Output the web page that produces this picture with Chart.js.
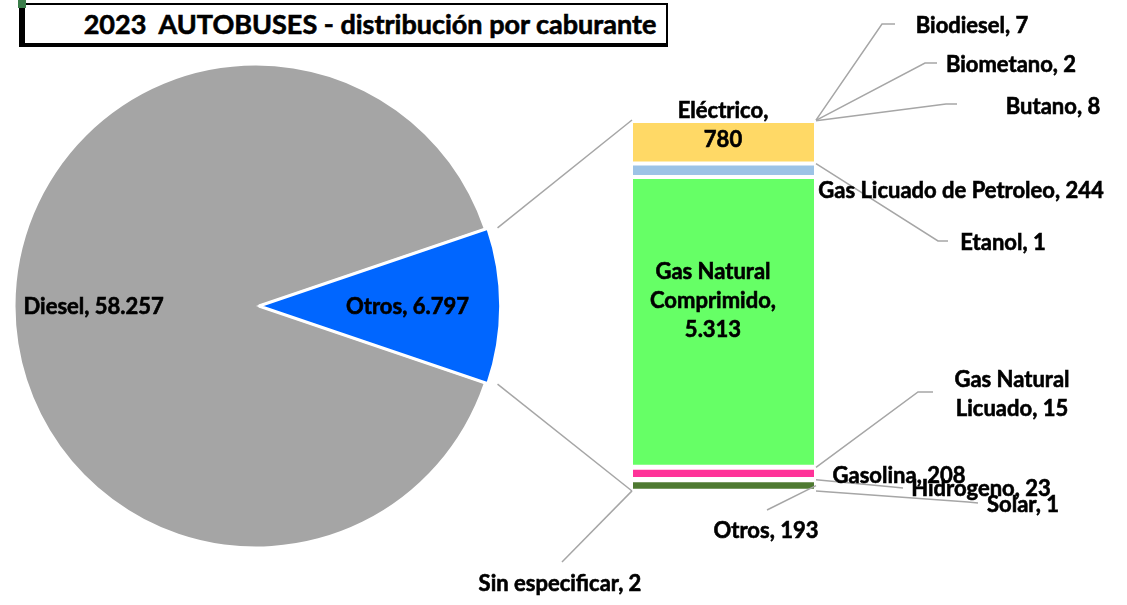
<!DOCTYPE html>
<html lang="es">
<head>
<meta charset="UTF-8">
<title>2023 AUTOBUSES - distribución por caburante</title>
<script src="https://cdn.jsdelivr.net/npm/chart.js@4.4.0/dist/chart.umd.min.js"></script>
<style>
    body { margin: 0; width: 1127px; height: 605px; background: #fff; position: relative; overflow: hidden; font-family: Lato, sans-serif; }
    #title { position: absolute; left: 19px; top: 3px; width: 592px; height: 38px; border: solid #000; border-width: 2px 2px 4px 6px;
             padding-left: 49px; font-weight: bold; font-size: 27px; line-height: 38px; text-align: center; white-space: nowrap;
             -webkit-text-stroke: 0.6px #000; }
    #mark { position: absolute; left: 18px; top: 0; width: 8px; height: 8px; background: #3B7D4A; }
    #pieBox { position: absolute; left: 8px; top: 58px; width: 496px; height: 496px; }
    #barBox { position: absolute; left: 0; top: 0; width: 1127px; height: 605px; pointer-events: none; }
</style>
</head>
<body>
    <div id="title">2023&nbsp; AUTOBUSES - distribución por caburante</div>
    <div id="mark"></div>
    <div id="pieBox"><canvas id="pie"></canvas></div>
    <div id="barBox"><canvas id="bar"></canvas></div>

<script>
    // pie: Diesel against everything else
    const pieLabels = ['Diesel', 'Otros'];
    const pieValues = [58257, 6797];
    const pieColors = ['#A5A5A5', '#0066FF'];

    // bar: breakdown of "Otros"
    const barLabels = ['Biodiesel', 'Biometano', 'Butano', 'Eléctrico', 'Etanol', 'Gas Licuado de Petroleo',
        'Gas Natural Comprimido', 'Gas Natural Licuado', 'Gasolina', 'Hidrogeno', 'Otros', 'Sin especificar', 'Solar'];
    const barValues = [7, 2, 8, 780, 1, 244, 5313, 15, 208, 23, 193, 2, 1];
    const barColors = ['#70AD47', '#255E91', '#9E480E', '#FFD966', '#636363', '#9DC3E6',
        '#66FF66', '#997300', '#FF3399', '#264478', '#4F7A31', '#43682B', '#7CAFDD'];

    // where the data labels sit (page pixels), like they were dragged in the sheet
    const barLabelLayout = [
        { x: 972, y: 25, leader: [[882, 24], [895, 24]] },
        { x: 1011, y: 64, leader: [[925, 63], [937, 63]] },
        { x: 1053, y: 106, leader: [[946, 104], [957, 104]] },
        { x: 723, y: 124, wrap: 110 },
        { x: 1003, y: 242, leader: [[938, 241], [948, 241]] },
        { x: 961, y: 190 },
        { x: 713, y: 300, wrap: 150 },
        { x: 1012, y: 393, wrap: 140, leader: [[918, 392], [933, 392]] },
        { x: 899, y: 475 },
        { x: 981, y: 488, leader: [[893, 487], [903, 488]] },
        { x: 766, y: 530, leader: [[767, 510]] },
        { x: 560, y: 583, leader: [[562, 562]], side: 'left' },
        { x: 1023, y: 504, leader: [[968, 502], [978, 503]] }
    ];
    const pieLabelRadius = [0.675, 0.58];

    const FONT = 'bold 22px Lato';
    const LINE_COLOR = '#A6A6A6';
    const fmt = n => String(n).replace(/\B(?=(\d{3})+(?!\d))/g, '.');

    wrapText = (ctx, text, maxW) => {
        if (!maxW) return [text];
        const lines = [];
        let cur = '';
        text.split(' ').forEach(w => {
            const t = cur ? cur + ' ' + w : w;
            if (cur && ctx.measureText(t).width > maxW) { lines.push(cur); cur = w; }
            else cur = t;
        });
        lines.push(cur);
        return lines;
    }

    drawText = (ctx, lines, x, cy) => {
        const lh = 29;
        const y0 = cy - (lines.length - 1) * lh / 2;
        ctx.textAlign = 'center';
        ctx.textBaseline = 'alphabetic';
        ctx.lineWidth = 0.6;
        ctx.strokeStyle = '#000';
        lines.forEach((l, i) => {
            ctx.fillText(l, x, y0 + i * lh + 8);
            ctx.strokeText(l, x, y0 + i * lh + 8);
        });
    }

    const pieTotal = pieValues.reduce((a, b) => a + b, 0);
    const otrosShare = pieValues[1] / pieTotal;

    const pieLabelPlugin = {
        id: 'pieLabels',
        afterDatasetsDraw(chart) {
            const ctx = chart.ctx;
            const arcs = chart.getDatasetMeta(0).data;
            ctx.save();
            ctx.font = FONT;
            ctx.fillStyle = '#000';
            arcs.forEach((arc, i) => {
                const p = arc.getProps(['x', 'y', 'startAngle', 'endAngle', 'outerRadius']);
                const mid = (p.startAngle + p.endAngle) / 2;
                const off = arc.options.offset || 0;
                const r = p.outerRadius * pieLabelRadius[i] + off;
                const x = p.x + Math.cos(mid) * r;
                const y = p.y + Math.sin(mid) * r;
                drawText(ctx, [pieLabels[i] + ', ' + fmt(pieValues[i])], x, y);
            });
            ctx.restore();
        }
    };

    const pieChart = new Chart('pie', {
        type: 'pie',
        data: {
            labels: pieLabels,
            datasets: [{
                data: pieValues,
                backgroundColor: pieColors,
                borderColor: '#fff',
                borderWidth: [0, 3],
                hoverBorderWidth: [0, 3],
                offset: [0, 12],
                hoverOffset: 0
            }]
        },
        options: {
            responsive: true,
            maintainAspectRatio: false,
            animation: false,
            events: [],
            rotation: 90 + 180 * otrosShare,
            plugins: { legend: { display: false }, tooltip: { enabled: false } }
        },
        plugins: [pieLabelPlugin]
    });

    const barTotal = barValues.reduce((a, b) => a + b, 0);

    const barLabelPlugin = {
        id: 'barLabels',
        afterDatasetsDraw(chart) {
            const ctx = chart.ctx;
            const yScale = chart.scales.y;
            const first = chart.getDatasetMeta(0).data[0];
            const left = first.x - first.width / 2;
            const right = first.x + first.width / 2;
            const top = yScale.getPixelForValue(0);
            const bottom = yScale.getPixelForValue(barTotal);

            ctx.save();
            ctx.strokeStyle = LINE_COLOR;
            ctx.lineWidth = 1.5;

            // lines from the exploded pie slice to the bar
            const pr = pieChart.canvas.getBoundingClientRect();
            const br = chart.canvas.getBoundingClientRect();
            const arc = pieChart.getDatasetMeta(0).data[1];
            const p = arc.getProps(['x', 'y', 'startAngle', 'endAngle', 'outerRadius']);
            const mid = (p.startAngle + p.endAngle) / 2;
            const off = arc.options.offset;
            const cx = pr.left - br.left + p.x + Math.cos(mid) * off;
            const cy = pr.top - br.top + p.y + Math.sin(mid) * off;
            const rr = p.outerRadius + 2;
            [[p.startAngle, top], [p.endAngle, bottom]].forEach(([a, yy]) => {
                ctx.beginPath();
                ctx.moveTo(cx + Math.cos(a) * rr, cy + Math.sin(a) * rr);
                ctx.lineTo(left - 1, yy);
                ctx.stroke();
            });

            // leader lines
            barLabelLayout.forEach((lay, i) => {
                if (!lay.leader) return;
                const el = chart.getDatasetMeta(i).data[0];
                const sy = (el.y + el.base) / 2;
                ctx.beginPath();
                ctx.moveTo(lay.side === 'left' ? left - 1 : right + 2, sy);
                lay.leader.forEach(([x, y]) => ctx.lineTo(x, y));
                ctx.stroke();
            });

            ctx.font = FONT;
            ctx.fillStyle = '#000';
            barLabelLayout.forEach((lay, i) => {
                const text = barLabels[i] + ', ' + fmt(barValues[i]);
                drawText(ctx, wrapText(ctx, text, lay.wrap), lay.x, lay.y);
            });
            ctx.restore();
        }
    };

    const barChart = new Chart('bar', {
        type: 'bar',
        data: {
            labels: [''],
            datasets: barLabels.map((label, i) => ({
                label: label,
                data: [barValues[i]],
                backgroundColor: barColors[i],
                borderColor: '#fff',
                borderWidth: { top: 2, bottom: 2, left: 0, right: 0 },
                borderSkipped: false,
                inflateAmount: 0,
                barPercentage: 1,
                categoryPercentage: 1
            }))
        },
        options: {
            responsive: true,
            maintainAspectRatio: false,
            animation: false,
            events: [],
            layout: { padding: { left: 633, right: 313, top: 120, bottom: 114 } },
            scales: {
                x: { display: false, stacked: true },
                y: { display: false, stacked: true, reverse: true, min: 0, max: barTotal }
            },
            plugins: { legend: { display: false }, tooltip: { enabled: false } }
        },
        plugins: [barLabelPlugin]
    });
</script>
</body>
</html>
